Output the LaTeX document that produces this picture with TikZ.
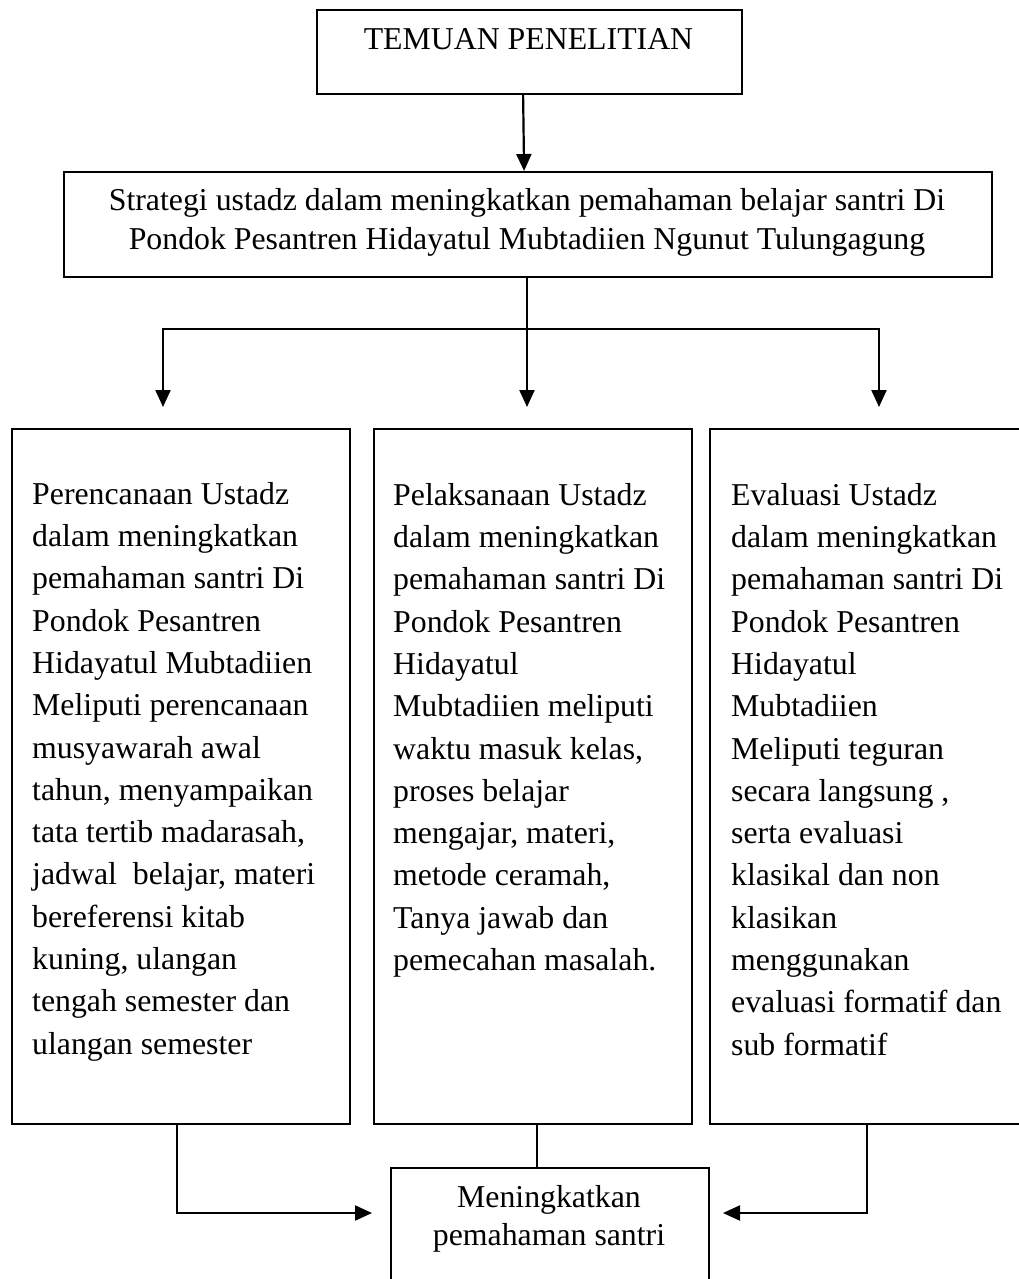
\documentclass[tikz,border=0pt]{standalone}
\usepackage{fontspec}
\setmainfont{Liberation Serif}
\usetikzlibrary{arrows.meta}
\tikzset{
  box/.style={draw, line width=2.2pt, inner sep=0pt, anchor=north west},
  conn/.style={line width=2.2pt},
  arr/.style={line width=2.2pt, -{Triangle[length=17pt,width=15pt]}},
  coltext/.style={anchor=north west, inner sep=0pt, align=left,
    font=\fontsize{31.8}{42.3}\selectfont},
  midtext/.style={anchor=north, inner sep=0pt, align=center,
    font=\fontsize{31.8}{39}\selectfont},
  bottext/.style={anchor=north, inner sep=0pt, align=center,
    font=\fontsize{31.8}{38}\selectfont},
}
\begin{document}
\begin{tikzpicture}[x=1pt,y=-1pt]
\useasboundingbox[fill=white] (0,0) rectangle (1019,1279);

% boxes
\node[box, minimum width=425pt, minimum height=84pt] (top) at (316,9) {};
\node[box, minimum width=928pt, minimum height=105pt] (strat) at (63,171) {};
\node[box, minimum width=338pt, minimum height=695pt] (A) at (11,428) {};
\node[box, minimum width=318pt, minimum height=695pt] (B) at (373,428) {};
\node[box, minimum width=330pt, minimum height=695pt] (C) at (709,428) {};
\node[box, minimum width=318pt, minimum height=140pt] (bot) at (390,1167) {};

% texts
\node[anchor=base, inner sep=0pt, font=\fontsize{31.8}{38}\selectfont] (toptext) at (528.5,50) {TEMUAN PENELITIAN};
\node[midtext] (strattext) at (527,182.7) {\strut Strategi ustadz dalam meningkatkan pemahaman belajar santri Di\\
Pondok Pesantren Hidayatul Mubtadiien Ngunut Tulungagung};
\node[coltext] (Atext) at (32,474.4) {\strut Perencanaan Ustadz\\
dalam meningkatkan\\
pemahaman santri Di\\
Pondok Pesantren\\
Hidayatul Mubtadiien\\
Meliputi perencanaan\\
musyawarah awal\\
tahun, menyampaikan\\
tata tertib madarasah,\\
jadwal~ belajar, materi\\
bereferensi kitab\\
kuning, ulangan\\
tengah semester dan\\
ulangan semester};
\node[coltext] (Btext) at (393,475.4) {\strut Pelaksanaan Ustadz\\
dalam meningkatkan\\
pemahaman santri Di\\
Pondok Pesantren\\
Hidayatul\\
Mubtadiien meliputi\\
waktu masuk kelas,\\
proses belajar\\
mengajar, materi,\\
metode ceramah,\\
Tanya jawab dan\\
pemecahan masalah.};
\node[coltext] (Ctext) at (731,475.4) {\strut Evaluasi Ustadz\\
dalam meningkatkan\\
pemahaman santri Di\\
Pondok Pesantren\\
Hidayatul\\
Mubtadiien\\
Meliputi teguran\\
secara langsung ,\\
serta evaluasi\\
klasikal dan non\\
klasikan\\
menggunakan\\
evaluasi formatif dan\\
sub formatif};
\node[bottext] (bottext) at (549,1180.4) {\strut Meningkatkan\\ pemahaman santri};

% connector points
\coordinate (hub) at (527,329);
\coordinate (ltip) at (163,407);
\coordinate (ctip) at (527,407);
\coordinate (rtip) at (879,407);
\coordinate (jl) at (177,1213);
\coordinate (jr) at (867,1213);
\coordinate (bltip) at (372,1213);
\coordinate (brtip) at (723,1213);

% connectors
\draw[arr] ([xshift=-6.5pt]top.south) -- ([xshift=-5.5pt]top.south |- strat.north);
\draw[conn] (strat.south -| hub) -- (hub);
\draw[arr] (hub) -- (ctip);
\draw[arr] (hub) -| (ltip);
\draw[arr] (hub) -| (rtip);
\draw[arr] (A.south -| jl) -- (jl) -- (bltip);
\draw[arr] (C.south -| jr) -- (jr) -- (brtip);
\draw[conn] ([xshift=4pt]B.south) -- ([xshift=4pt]B.south |- bot.north);
\end{tikzpicture}
\end{document}
